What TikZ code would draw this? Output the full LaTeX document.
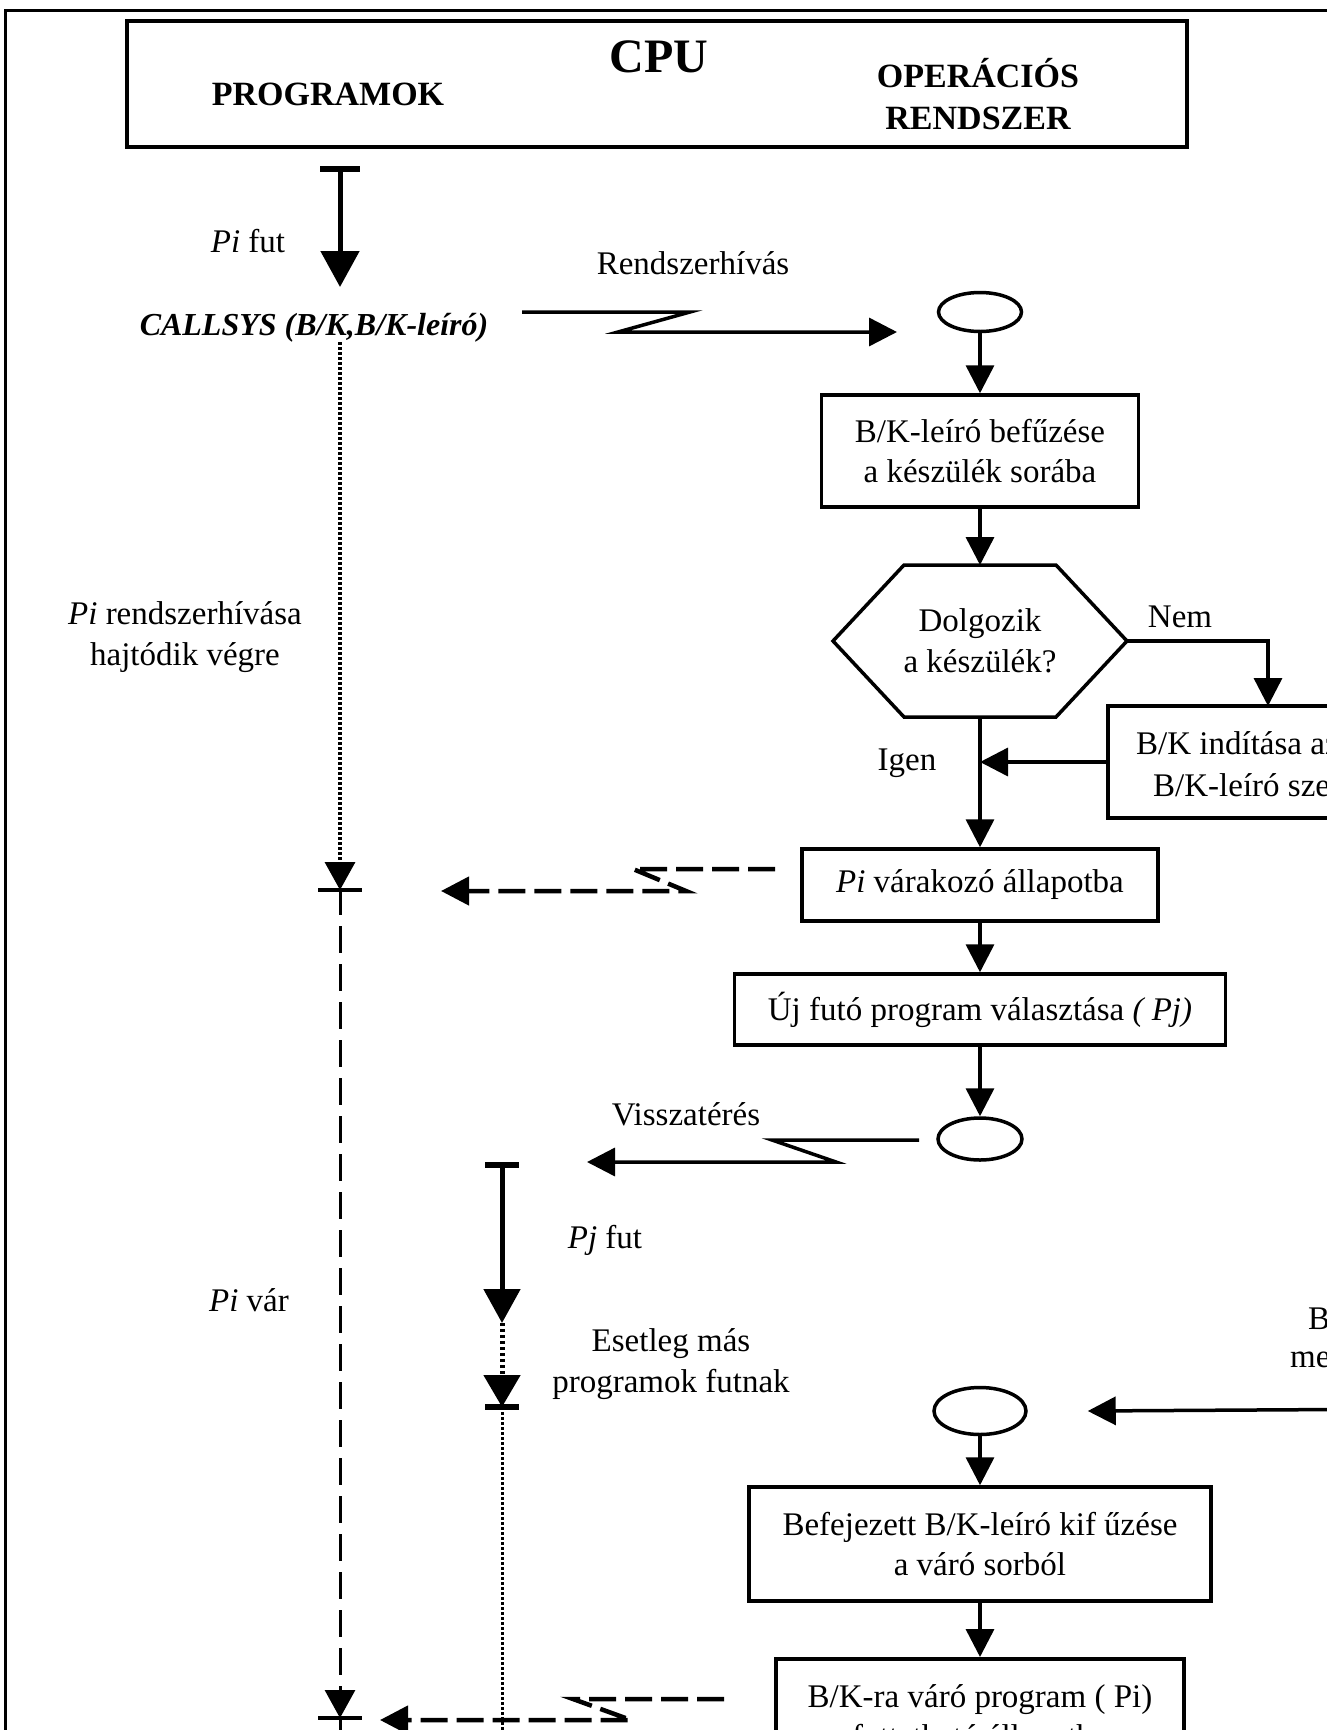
\documentclass[tikz,border=0pt]{standalone}
\usepackage{fontspec}
\setmainfont{Liberation Serif}
\usetikzlibrary{arrows.meta,shapes.geometric}
\newcommand\bodyfont{\fontsize{33}{40.5}\selectfont}
\newcommand\headfont{\fontsize{34}{42}\selectfont\bfseries}
\newcommand\titlefont{\fontsize{48}{56}\selectfont\bfseries}
\newcommand\callfont{\fontsize{32}{38}\selectfont\bfseries\itshape}
\begin{document}
\begin{tikzpicture}[x=1pt,y=-1pt,
  every node/.style={font=\bodyfont,inner sep=0pt,align=center},
  box/.style={draw,line width=3.5pt,line join=miter},
  oval/.style={draw,ellipse,line width=3.5pt,inner sep=0pt},
  flow/.style={line width=3.5pt,arrows={-Triangle[length=28pt,width=28pt]}},
  dflow/.style={line width=4.5pt,dash pattern=on 27pt off 9pt,arrows={-Triangle[length=28pt,width=28pt]}},
  run/.style={line width=5pt,arrows={Bar[width=40pt,line width=6pt]-Triangle[length=36pt,width=38pt]}},
  runj/.style={line width=5pt,arrows={Bar[width=34pt,line width=6pt]-Triangle[length=34pt,width=36pt]}},
  dotline/.style={line width=3.5pt,dash pattern=on 2.5pt off 2.5pt},
  thickdot/.style={line width=5pt,dash pattern=on 3pt off 3pt},
  dashline/.style={line width=3pt,dash pattern=on 27pt off 11pt},
  tick/.style={line width=4.5pt},
  waithead/.style={arrows={-Triangle[length=28pt,width=30pt]}}]

\useasboundingbox (0,0) rectangle (1327,1730);
\clip (0,0) rectangle (1327,1730);

% outer frame
\draw[line width=3pt] (5,10) rectangle (1500,1900);

% header
\node[box,line width=4.5pt,minimum width=1060pt,minimum height=126pt] (cpu) at (657,84) {};
\node[font=\titlefont] (cputitle) at (659,57) {CPU};
\node[font=\headfont] (progs) at (328,94) {PROGRAMOK};
\node[font=\headfont] (os) at (978,94) {OPERÁCIÓS\\RENDSZER};

% ---------- program side, Pi ----------
\coordinate (piTop) at (340,166);
\coordinate (piCall) at (340,287);
\draw[run] (piTop) -- (piCall);
\node (pifut) at (248,241) {{\itshape Pi} fut};
\node[font=\callfont] (callsys) at (314,328) {CALLSYS (B/K,B/K-leíró)};

\coordinate (piDotTop) at (340,342);
\coordinate (piStop) at (340,890);
\coordinate (piWake) at (340,1718);
\coordinate (piEnd) at (340,1900);
\draw[dotline,waithead] (piDotTop) -- (piStop);
\draw[tick] ([xshift=-22pt]piStop) -- ([xshift=22pt]piStop);
\draw[dashline,waithead] ([yshift=2pt]piStop) -- (piWake);
\draw[tick] ([xshift=-22pt]piWake) -- ([xshift=22pt]piWake);
\draw[dashline] ([yshift=2pt]piWake) -- (piEnd);
\node (prh) at (185,637) {{\itshape Pi} rendszerhívása\\hajtódik végre};
\node (pivar) at (249,1300) {{\itshape Pi} vár};

% ---------- program side, Pj ----------
\coordinate (pjTop) at (502,1162);
\coordinate (pjRun) at (502,1323);
\coordinate (pjOther) at (502,1407);
\coordinate (pjEnd) at (502,1900);
\draw[runj] (pjTop) -- (pjRun);
\draw[thickdot,arrows={-Triangle[length=32pt,width=36pt]}] (pjRun) -- (pjOther);
\draw[tick,line width=5.5pt] ([xshift=-17pt]pjOther) -- ([xshift=17pt]pjOther);
\draw[dotline,line width=3pt] (pjOther) -- (pjEnd);
\node (pjfut) at (605,1240) {{\itshape Pj} fut};
\node (others) at (671,1364) {Esetleg más\\programok futnak};

% ---------- operating system side ----------
\node[oval,minimum width=83pt,minimum height=39pt] (e1) at (980,312) {};
\node[box,minimum width=317pt,minimum height=112pt] (b1) at (980,451) {B/K-leíró befűzése\\a készülék sorába};

% decision hexagon
\coordinate (hN) at (980,565);
\coordinate (hS) at (980,717);
\coordinate (hE) at (1127,641);
\coordinate (hW) at (833,641);
\draw[line width=3.5pt,line join=miter] (hW) -- (904,565) -- (1056,565) -- (hE) -- (1056,717) -- (904,717) -- cycle;
\node (hex) at (980,641) {Dolgozik\\a készülék?};

\node[box,minimum width=312pt,minimum height=112pt] (b2) at (1264,762) {};
\node[anchor=west] (b2l1) at (1136,743) {B/K indítása az};
\node[anchor=west] (b2l2) at (1153,785) {B/K-leíró szerint};
\coordinate (b2top) at (1268,706);
\coordinate (join) at (980,762);

\node[box,minimum width=356pt,minimum height=72pt] (b3) at (980,885) {{\itshape Pi} várakozó állapotba};
\node[box,minimum width=491pt,minimum height=71pt] (b4) at (980,1009.5) {Új futó program választása {\itshape( Pj)}};
\node[oval,minimum width=84pt,minimum height=42pt] (e2) at (980,1139) {};
\node[oval,minimum width=92pt,minimum height=47pt] (e3) at (980,1411) {};
\node[box,minimum width=462pt,minimum height=114pt] (b5) at (980,1544) {Befejezett B/K-leíró kif űzése\\a váró sorból};
\node[box,minimum width=408pt,minimum height=122pt,anchor=north] (b6) at (980,1657) {B/K-ra váró program ( Pi)\\futtatható állapotba};

% flow inside the operating system
\draw[flow] (e1) -- (b1);
\draw[flow] (b1) -- (hN);
\draw[flow] (hE) -| (b2top);
\node (nem) at (1180,617) {Nem};
\draw[flow] (b2.west) -- (join);
\node (igen) at (907,763) {Igen};
\draw[flow] (hS) -- (b3);
\draw[flow] (b3) -- (b4);
\draw[flow] (b4) -- (e2);
\draw[flow] (e3) -- (b5);
\draw[flow] (b5) -- (b6);

% interrupt from the device
\coordinate (irq) at (1420,1409);
\draw[flow] (irq) -- ([xshift=60pt]e3.east);
\node[anchor=west] (irq1) at (1308,1322) {B/K vége};
\node[anchor=west] (irq2) at (1290,1360) {megszakítás};

% system call
\coordinate (r1) at (522,312);
\coordinate (r2) at (690,312);
\coordinate (r3) at (618,332);
\coordinate (r4) at (897,332);
\draw[flow,line join=miter] (r1) -- (r2) -- (r3) -- (r4);
\node (rh) at (693,263) {Rendszerhívás};

% Pi suspended
\coordinate (s1) at (775,869);
\coordinate (s2) at (633,869);
\coordinate (s3) at (686,891);
\coordinate (s4) at (441,891);
\draw[dflow] (s1) -- (s2) -- (s3) -- (s4);

% return to Pj
\coordinate (v1) at (919,1140);
\coordinate (v2) at (772,1140);
\coordinate (v3) at (836,1162);
\coordinate (v4) at (587,1162);
\draw[flow,line join=miter] (v1) -- (v2) -- (v3) -- (v4);
\node (vissza) at (686,1114) {Visszatérés};

% Pi made runnable
\coordinate (w1) at (724,1699);
\coordinate (w2) at (573,1699);
\coordinate (w3) at (631,1720);
\coordinate (w4) at (380,1720);
\draw[dflow] (w1) -- (w2) -- (w3) -- (w4);

\end{tikzpicture}
\end{document}
